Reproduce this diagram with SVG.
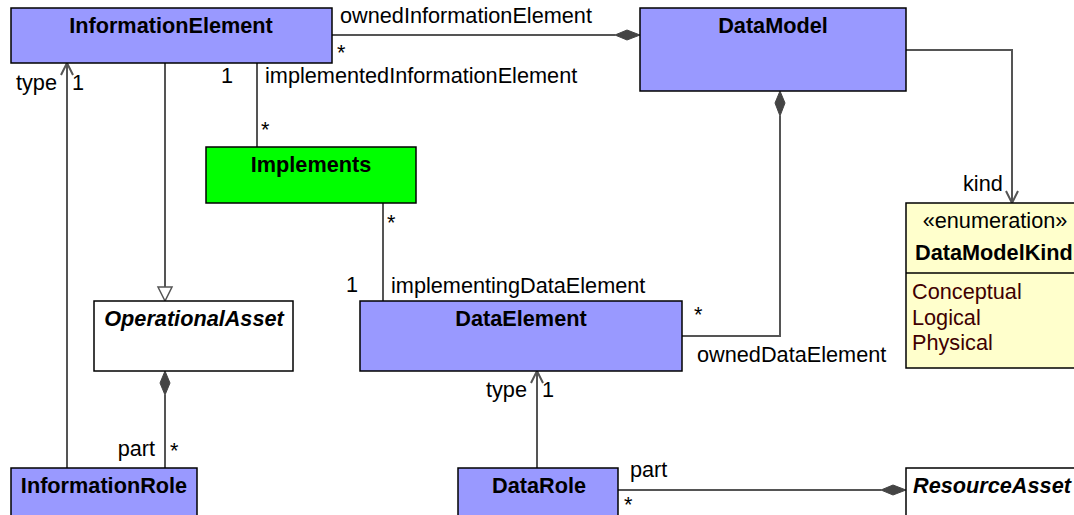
<svg xmlns="http://www.w3.org/2000/svg" width="1074" height="515" viewBox="0 0 1074 515">
<defs>
<style>
.box{stroke:#000;stroke-width:1.5}
.blue{fill:#9999FF}
.green{fill:#00FF00}
.white{fill:#FFFFFF}
.enum{fill:#FFFFCC}
.t{font-family:"Liberation Sans",Arial,sans-serif;font-size:21.7px;font-weight:bold;text-anchor:middle;fill:#000}
.ts{font-family:"Liberation Sans",Arial,sans-serif;font-size:21.7px;font-weight:bold;text-anchor:start;fill:#000}
.ti{font-style:italic}
.l{font-family:"Liberation Sans",Arial,sans-serif;font-size:21.7px;fill:#000}
.e{text-anchor:end}
.m{text-anchor:middle}
.lit{fill:#400000}
.c{fill:none;stroke:#555;stroke-width:2}
.dia{fill:#444;stroke:#444;stroke-width:1}
.open{fill:none;stroke:#555;stroke-width:2}
.tri{fill:#fff;stroke:#555;stroke-width:1.5}
</style>
</defs>
<g id="connectors">
<path class="c" d="M332,35 H615"/>
<path class="dia" d="M640,35 L627,30 L615,35 L627,40 Z"/>
<path class="c" d="M906,50 H1012 V203"/>
<path class="open" d="M1006,191 L1012,203 L1018,191"/>
<path class="c" d="M780,116 V336 H682"/>
<path class="dia" d="M780,91 L775,103 L780,116 L785,103 Z"/>
<path class="c" d="M67,468 V63"/>
<path class="open" d="M61,75 L67,63 L73,75"/>
<path class="c" d="M165,63 V287"/>
<path class="tri" d="M165,301 L158,287 L172,287 Z"/>
<path class="c" d="M257,63 V147"/>
<path class="c" d="M383,203 V301"/>
<path class="c" d="M165,395 V468"/>
<path class="dia" d="M165,371 L160,383 L165,395 L170,383 Z"/>
<path class="c" d="M537,468 V371"/>
<path class="open" d="M531,383 L537,371 L543,383"/>
<path class="c" d="M618,490 H881"/>
<path class="dia" d="M906,490 L893,485 L881,490 L893,495 Z"/>
<text class="l" x="340" y="23">ownedInformationElement</text>
<text class="l" x="337" y="60">*</text>
<text class="l e" x="57" y="90">type</text>
<text class="l" x="72" y="90">1</text>
<text class="l" x="221" y="83">1</text>
<text class="l" x="265" y="83">implementedInformationElement</text>
<text class="l" x="261" y="137">*</text>
<text class="l" x="387" y="230">*</text>
<text class="l" x="346" y="292">1</text>
<text class="l" x="391" y="293">implementingDataElement</text>
<text class="l" x="694" y="322">*</text>
<text class="l" x="697" y="362">ownedDataElement</text>
<text class="l" x="963" y="191">kind</text>
<text class="l e" x="155" y="456">part</text>
<text class="l" x="170" y="458">*</text>
<text class="l e" x="527" y="397">type</text>
<text class="l" x="542" y="397">1</text>
<text class="l" x="630" y="477">part</text>
<text class="l" x="624" y="512">*</text>
</g>
<g id="InformationElement">
<rect class="box blue" x="11" y="8" width="321" height="55"/>
<text class="t" x="171" y="33">InformationElement</text>
</g>
<g id="DataModel">
<rect class="box blue" x="640" y="8" width="266" height="83"/>
<text class="t" x="773" y="33">DataModel</text>
</g>
<g id="Implements">
<rect class="box green" x="206" y="147" width="210" height="56"/>
<text class="t" x="311" y="172">Implements</text>
</g>
<g id="DataModelKind">
<rect class="box enum" x="906" y="203" width="180" height="165"/>
<line class="box" x1="906" y1="273" x2="1086" y2="273"/>
<text class="l m" x="995" y="228">«enumeration»</text>
<text class="ts" x="915" y="260">DataModelKind</text>
<text class="l lit" x="912" y="299">Conceptual</text>
<text class="l lit" x="912" y="325">Logical</text>
<text class="l lit" x="912" y="350">Physical</text>
</g>
<g id="OperationalAsset">
<rect class="box white" x="94" y="301" width="199" height="70"/>
<text class="t ti" x="194" y="326">OperationalAsset</text>
</g>
<g id="DataElement">
<rect class="box blue" x="360" y="301" width="322" height="70"/>
<text class="t" x="521" y="326">DataElement</text>
</g>
<g id="InformationRole">
<rect class="box blue" x="11" y="468" width="186" height="60"/>
<text class="t" x="104" y="493">InformationRole</text>
</g>
<g id="DataRole">
<rect class="box blue" x="458" y="468" width="160" height="60"/>
<text class="t" x="539" y="493">DataRole</text>
</g>
<g id="ResourceAsset">
<rect class="box white" x="906" y="468" width="180" height="60"/>
<text class="ts ti" x="913" y="493">ResourceAsset</text>
</g>
</svg>
